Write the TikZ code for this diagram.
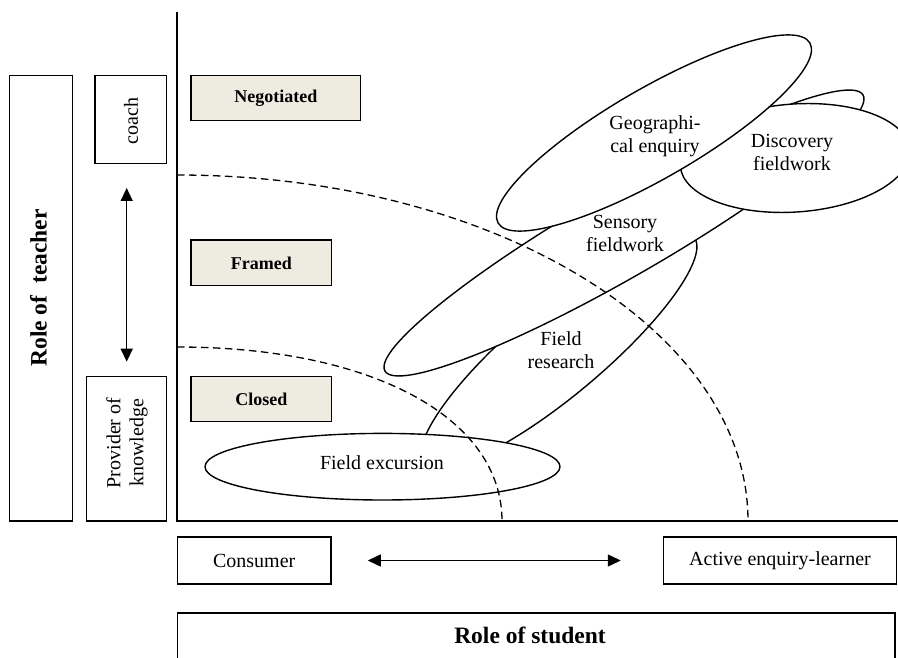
\documentclass[tikz,border=0pt]{standalone}
\usepackage{fontspec}
\setmainfont{Liberation Serif}
\usetikzlibrary{arrows.meta}
\definecolor{tan}{HTML}{EEECE1}
\begin{document}
\begin{tikzpicture}[x=1pt,y=-1pt,
  every node/.style={font=\fontsize{20}{23}\selectfont},
  box/.style={draw, line width=1.5pt, inner sep=0pt},
  tagbox/.style={box, fill=tan, font=\bfseries\fontsize{18}{21}\selectfont},
  ell/.style={draw, line width=1.4pt, fill=white},
  lbl/.style={align=center, inner sep=0pt},
  boldlbl/.style={lbl, font=\bfseries\fontsize{23.5}{27}\selectfont},
  axisline/.style={line width=1.8pt},
  dashline/.style={line width=1.3pt, dash pattern=on 7.5pt off 4.5pt},
  dblarrow/.style={line width=1.5pt, {Triangle[length=13pt,width=12pt]}-{Triangle[length=13pt,width=12pt]}}
]
\useasboundingbox (0,0) rectangle (898,658);
\clip (0,0) rectangle (898,658);

% left column
\node[box, minimum width=63.4pt, minimum height=445.3pt] (teacher) at (41,298.3) {};
\node[boldlbl, rotate=90] (teachert) at (38.5,288) {Role of\ \ teacher};
\node[box, minimum width=71.7pt, minimum height=87.6pt] (coach) at (130.85,119.5) {};
\node[lbl, rotate=90] (coacht) at (131,121) {coach};
\node[box, minimum width=80pt, minimum height=144.3pt] (prov) at (126.7,448.85) {};
\node[lbl, rotate=90] (provt) at (127,443) {Provider of\\knowledge};
\coordinate (aTop) at (126.7,188);
\coordinate (aBot) at (126.7,361.7);
\draw[dblarrow] (aTop) -- (aBot);

% axes
\coordinate (origin) at (177,521);
\coordinate (ytop) at (177,12);
\coordinate (xend) at (898,521);
\draw[axisline] (ytop) -- (origin) -- (xend);

% level boxes
\node[tagbox, minimum width=169.7pt, minimum height=45pt] (neg) at (275.85,98.2) {Negotiated};
\node[tagbox, minimum width=140.7pt, minimum height=45.7pt] (framed) at (261.35,262.85) {Framed};
\node[tagbox, minimum width=140.7pt, minimum height=45pt] (closed) at (261.35,399.2) {Closed};

% ellipses
\draw[ell, rotate around={40:(559,350)}] (559,350) ellipse [x radius=176pt, y radius=45pt];
\draw[ell, rotate around={30:(624,233)}] (624,233) ellipse [x radius=276pt, y radius=43pt];
\draw[ell, rotate around={4:(795,158)}] (795,158) ellipse [x radius=115pt, y radius=54pt];
\draw[ell, rotate around={30:(654,133)}] (654,133) ellipse [x radius=180pt, y radius=45pt];
\draw[ell] (382.5,466.7) ellipse [x radius=177.5pt, y radius=33.3pt];

% dashed boundaries
\coordinate (d1s) at (177,175);
\coordinate (d1e) at (748,521);
\draw[dashline] (d1s) .. controls (492.4,175) and (748,329.9) .. (d1e);
\coordinate (d2s) at (177,347);
\coordinate (d2e) at (502,521);
\draw[dashline] (d2s) .. controls (372,347) and (502,417.6) .. (d2e);

% ellipse labels
\node[lbl] (fe) at (382,463) {Field excursion};
\node[lbl] (fr) at (561,350) {Field\\research};
\node[lbl] (sf) at (625,233) {Sensory\\fieldwork};
\node[lbl] (ge) at (655,136) {Geographi-\\cal enquiry};
\node[lbl] (df) at (792,152) {Discovery\\fieldwork};

% student row
\node[box, minimum width=153.6pt, minimum height=47pt] (cons) at (254.2,560.5) {Consumer};
\node[box, minimum width=233pt, minimum height=47pt] (act) at (780,560.5) {Active enquiry-learner};
\draw[dblarrow, shorten <=36pt, shorten >=42pt] (cons.east) -- (act.west);
\node[box, minimum width=717.6pt, minimum height=70pt] (student) at (536.2,648) {};
\node[boldlbl] (studentt) at (530,635) {Role of student};
\end{tikzpicture}
\end{document}
